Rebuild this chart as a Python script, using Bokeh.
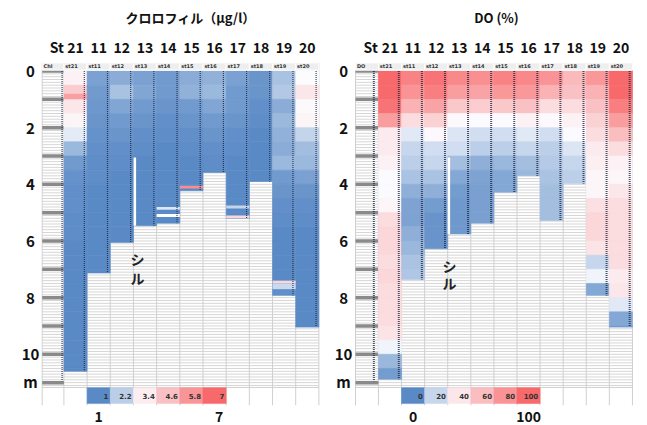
from bokeh.plotting import figure
from bokeh.layouts import row
from bokeh.models import Range1d, ColumnDataSource, LinearColorMapper
from bokeh.core.properties import value
from bokeh.embed import file_html
from bokeh.resources import INLINE

# ---------------- data ----------------
stations = ["21", "11", "12", "13", "14", "15", "16", "17", "18", "19", "20"]
header_names = ["st21", "st11", "st12", "st13", "st14", "st15", "st16", "st17", "st18", "st19", "st20"]
layer_step = 0.5          # each profile value covers one 0.5 m layer from the surface
depth_ticks = [0, 2, 4, 6, 8, 10]
depth_marks = [0, 1, 2, 3, 4, 5, 6, 7, 8, 9, 10, 11]

# Chlorophyll (ug/l)
chl_bottom = [10.6, 7.13, 6.05, 5.46, 5.37, 4.23, 3.58, 5.2, 3.9, 7.92, 9.04]
chl_st21 = [3.3, 4.3, 3.6, 3.2, 2.7, 1.8, 1.3, 1.15, 1.1, 1.1, 1.05, 1.05, 1.0, 1.0, 1.0, 1.0, 1.0, 1.0, 1.0, 1.0, 1.0, 1.0]
chl_st11 = [1.4, 1.3, 1.25, 1.2, 1.15, 1.1, 1.05, 1.05, 1.0, 1.0, 1.0, 1.0, 1.0, 1.0, 1.0]
chl_st12 = [1.6, 2.0, 1.5, 1.3, 1.2, 1.1, 1.05, 1.0, 1.0, 1.0, 1.0, 1.0, 1.0]
chl_st13 = [1.4, 1.5, 1.3, 1.2, 1.1, 1.05, 1.0, 1.0, 1.0, 1.0, 1.0]
chl_st14 = [1.3, 1.3, 1.2, 1.1, 1.05, 1.0, 1.0, 1.0, 1.0, 1.0, 1.0]
chl_st15 = [1.6, 1.7, 1.3, 1.2, 1.1, 1.05, 1.0, 1.0, 1.0]
chl_st16 = [1.7, 1.8, 1.5, 1.3, 1.2, 1.1, 1.05, 1.0]
chl_st17 = [1.4, 1.3, 1.3, 1.2, 1.1, 1.05, 1.0, 1.0, 1.0, 1.0, 1.0]
chl_st18 = [1.2, 1.2, 1.1, 1.05, 1.0, 1.0, 1.0, 1.0]
chl_st19 = [2.0, 2.1, 1.6, 1.8, 1.7, 1.6, 1.8, 1.3, 1.2, 1.1, 1.05, 1.0, 1.0, 1.0, 1.0, 1.1]
chl_st20 = [3.0, 3.6, 3.1, 3.2, 2.3, 1.9, 1.8, 1.4, 1.2, 1.1, 1.05, 1.0, 1.0, 1.0, 1.0, 1.0, 1.0, 1.0, 1.0]
chl_profiles = [chl_st21, chl_st11, chl_st12, chl_st13, chl_st14, chl_st15,
                chl_st16, chl_st17, chl_st18, chl_st19, chl_st20]
# thin layers seen inside the profiles
chl_thin_station = ["21", "15", "14", "14", "17", "17", "19", "19"]
chl_thin_top = [0.8, 4.05, 4.8, 5.05, 4.75, 5.1, 7.4, 7.5]
chl_thin_bottom = [1.0, 4.15, 4.9, 5.15, 4.85, 5.2, 7.5, 7.7]
chl_thin_value = [5.5, 6.0, 2.6, 3.0, 2.3, 4.0, 4.0, 2.4]
chl_scale_values = [1, 2.2, 3.4, 4.6, 5.8, 7]
chl_scale_labels = ["1", "2.2", "3.4", "4.6", "5.8", "7"]

# DO (%)
do_bottom = [10.88, 7.36, 6.27, 5.75, 5.37, 4.28, 3.7, 5.28, 3.97, 7.92, 9.04]
do_st21 = [100, 100, 95, 75, 38, 38, 35, 30, 30, 33, 45, 48, 48, 45, 48, 45, 45, 45, 42, 28, 12, 5]
do_st11 = [88, 80, 65, 45, 25, 20, 18, 15, 10, 7, 7, 10, 12, 15, 16]
do_st12 = [95, 90, 72, 50, 32, 22, 20, 15, 10, 5, 3, 3, 3]
do_st13 = [85, 75, 55, 32, 24, 22, 14, 8, 5, 4, 4, 4]
do_st14 = [82, 72, 52, 30, 22, 18, 10, 7, 6, 6, 6]
do_st15 = [88, 78, 55, 30, 22, 18, 12, 8, 8]
do_st16 = [85, 78, 58, 35, 25, 20, 14, 12]
do_st17 = [80, 65, 45, 32, 22, 18, 17, 15, 14, 14, 14]
do_st18 = [62, 58, 45, 35, 30, 24, 20, 18]
do_st19 = [78, 65, 58, 50, 45, 38, 36, 33, 33, 44, 48, 48, 42, 20, 28, 8]
do_st20 = [100, 100, 90, 75, 60, 45, 35, 33, 40, 45, 45, 45, 45, 45, 38, 40, 25, 8, 5]
do_profiles = [do_st21, do_st11, do_st12, do_st13, do_st14, do_st15,
               do_st16, do_st17, do_st18, do_st19, do_st20]
do_thin_station = []
do_thin_top = []
do_thin_bottom = []
do_thin_value = []
do_scale_values = [0, 20, 40, 60, 80, 100]
do_scale_labels = ["0", "20", "40", "60", "80", "100"]

# ---------------- styling helpers ----------------
JP = value("Noto Sans CJK JP")
BLUE = (90, 138, 198)
WHITE = (252, 252, 255)
RED = (248, 105, 107)


def make_palette(lo, mid, hi, n=256):
    pal = []
    for i in range(n):
        v = lo + (hi - lo) * i / (n - 1)
        if v <= mid:
            t = (v - lo) / (mid - lo)
            a, b = BLUE, WHITE
        else:
            t = (v - mid) / (hi - mid)
            a, b = WHITE, RED
        c = tuple(int(round(a[j] + t * (b[j] - a[j]))) for j in range(3))
        pal.append("#%02x%02x%02x" % c)
    return pal


Y_TOP, Y_BOT = -2.489, 12.513


def panel(width, xr, depth_left, depth_lbl_x, st_x, title, title_x, corner,
          profiles, bottoms, thin_st, thin_top, thin_bot, thin_val,
          scale_vals, scale_lbls, end_lbl_x, lo, mid, hi,
          dot_depth_x, strip_x, strip_bottom, sill_x, sill_y, dot_width, dot_alpha):
    p = figure(width=width, height=425, x_range=Range1d(*xr), y_range=Range1d(Y_BOT, Y_TOP),
               output_backend="svg", toolbar_location=None, min_border=0,
               x_axis_location=None, y_axis_location=None, outline_line_color=None)
    p.xgrid.visible = False
    p.ygrid.visible = False
    mapper = LinearColorMapper(palette=make_palette(lo, mid, hi), low=lo, high=hi)
    right_edge = len(stations) + 0.5

    # spreadsheet grid
    hy = [round(i * 0.1, 2) for i in range(0, 112)]
    p.segment(x0=[depth_left] * len(hy), x1=[right_edge] * len(hy), y0=hy, y1=hy,
              line_color="#d6d6d6", line_width=1)
    vx = [depth_left] + [k + 0.5 for k in range(len(stations) + 1)]
    p.segment(x0=vx, x1=vx, y0=[-0.3] * len(vx), y1=[11.8] * len(vx),
              line_color="#d0d0d0", line_width=1)
    p.segment(x0=[depth_left], x1=[right_edge], y0=[11.17], y1=[11.17],
              line_color="#d0d0d0", line_width=1)

    # depth ruler bars
    p.segment(x0=[depth_left] * len(depth_marks), x1=[0.5] * len(depth_marks),
              y0=depth_marks, y1=depth_marks, line_color="#8a8a8a", line_width=3.5)

    # data cells
    l, r, t, b, v = [], [], [], [], []
    for k, (prof, bot) in enumerate(zip(profiles, bottoms)):
        col = k + 1
        for i, val in enumerate(prof):
            top = i * layer_step
            if top >= bot:
                break
            l.append(col - 0.5); r.append(col + 0.5)
            t.append(top); b.append(min(top + layer_step, bot)); v.append(val)
    src = ColumnDataSource(dict(l=l, r=r, t=t, b=b, v=v))
    p.quad(left="l", right="r", top="t", bottom="b", source=src,
           fill_color={"field": "v", "transform": mapper},
           line_color={"field": "v", "transform": mapper}, line_width=0.6)

    if thin_st:
        cols = [stations.index(s) + 1 for s in thin_st]
        tsrc = ColumnDataSource(dict(l=[c - 0.5 for c in cols], r=[c + 0.5 for c in cols],
                                     t=thin_top, b=thin_bot, v=thin_val))
        p.quad(left="l", right="r", top="t", bottom="b", source=tsrc,
               fill_color={"field": "v", "transform": mapper}, line_color=None)

    # columns of tiny cell numbers
    dx = [k + 1 + 0.38 for k in range(len(stations))] + [dot_depth_x]
    dy1 = list(bottoms) + [10.95]
    p.segment(x0=dx, x1=dx, y0=[0.0] * len(dx), y1=dy1, line_color="#1e2640",
              line_width=dot_width, line_dash="1 1", line_alpha=dot_alpha)

    # white strip (sill)
    p.segment(x0=[strip_x], x1=[strip_x], y0=[3.05], y1=[strip_bottom],
              line_color="white", line_width=2.5)

    # header row
    hl = [depth_left] + [k + 0.5 for k in range(len(stations))]
    hr = [0.5] + [k + 1.5 for k in range(len(stations))]
    p.quad(left=hl, right=hr, top=[-0.29] * len(hl), bottom=[-0.03] * len(hl),
           fill_color="#eeeeee", line_color="white", line_width=1)
    p.text(x=[h + 0.06 for h in hl], y=[-0.16] * len(hl), text=[corner] + header_names,
           text_font=value("DejaVu Sans"), text_font_size="5px", text_font_style="bold",
           text_color="#333333", text_baseline="middle", text_align="left")

    # colour scale
    sc = [k + 2 for k in range(len(scale_vals))]
    ssrc = ColumnDataSource(dict(l=[c - 0.5 for c in sc], r=[c + 0.5 for c in sc],
                                 v=scale_vals, x=[c + 0.42 for c in sc], lab=scale_lbls))
    p.quad(left="l", right="r", top=11.18, bottom=11.74, source=ssrc,
           fill_color={"field": "v", "transform": mapper},
           line_color={"field": "v", "transform": mapper}, line_width=0.5)
    p.text(x="x", y=11.46, text="lab", source=ssrc, text_font=value("DejaVu Sans"),
           text_font_size="7px", text_font_style="bold", text_color="#333333",
           text_baseline="middle", text_align="right")
    p.text(x=end_lbl_x, y=[12.19, 12.19], text=[scale_lbls[0], scale_lbls[-1]],
           text_font=JP, text_font_size="14px", text_font_style="bold",
           text_color="#111111", text_baseline="middle", text_align="center")

    # depth labels
    p.text(x=[depth_lbl_x] * (len(depth_ticks) + 1), y=[d + 0.02 for d in depth_ticks] + [10.95],
           text=[str(d) for d in depth_ticks] + ["m"], text_font=JP, text_font_size="15px",
           text_font_style="bold", text_color="#111111", text_baseline="middle",
           text_align="center")

    # station labels
    p.text(x=[k + 1 for k in range(len(stations))], y=[-0.83] * len(stations), text=stations,
           text_font=JP, text_font_size="14px", text_font_style="bold",
           text_color="#111111", text_baseline="middle", text_align="center")
    p.text(x=[st_x], y=[-0.83], text=["St"], text_font=JP, text_font_size="14px",
           text_font_style="bold", text_color="#111111", text_baseline="middle",
           text_align="right")

    # title
    p.text(x=[title_x], y=[-1.89], text=[title], text_font=JP, text_font_size="13px",
           text_font_style="bold", text_color="#111111", text_baseline="middle",
           text_align="center")

    # sill label
    p.text(x=[sill_x, sill_x], y=sill_y, text=["シ", "ル"], text_font=JP,
           text_font_size="14px", text_font_style="bold", text_color="#222222",
           text_baseline="middle", text_align="center")
    return p


p1 = panel(331, (-2.236, 12.044), -0.437, -0.94, 0.5, "クロロフィル（μg/l）", 5.96, "Chl",
           chl_profiles, chl_bottom, chl_thin_station, chl_thin_top, chl_thin_bottom,
           chl_thin_value, chl_scale_values, chl_scale_labels, [2, 7.2], 1, 3, 7,
           0.42, 3.56, 5.46, 3.67, [6.65, 7.32], 1.2, 0.85)
p2 = panel(316, (-1.534, 12.152), -0.494, -1.01, 0.47, "DO (%)", 5.61, "DO",
           do_profiles, do_bottom, do_thin_station, do_thin_top, do_thin_bottom,
           do_thin_value, do_scale_values, do_scale_labels, [2, 7], 0, 30, 100,
           0.3, 3.55, 5.75, 3.58, [6.87, 7.5], 2.0, 0.8)

layout = row(p1, p2)
open("out.html", "w").write(file_html(layout, INLINE))
